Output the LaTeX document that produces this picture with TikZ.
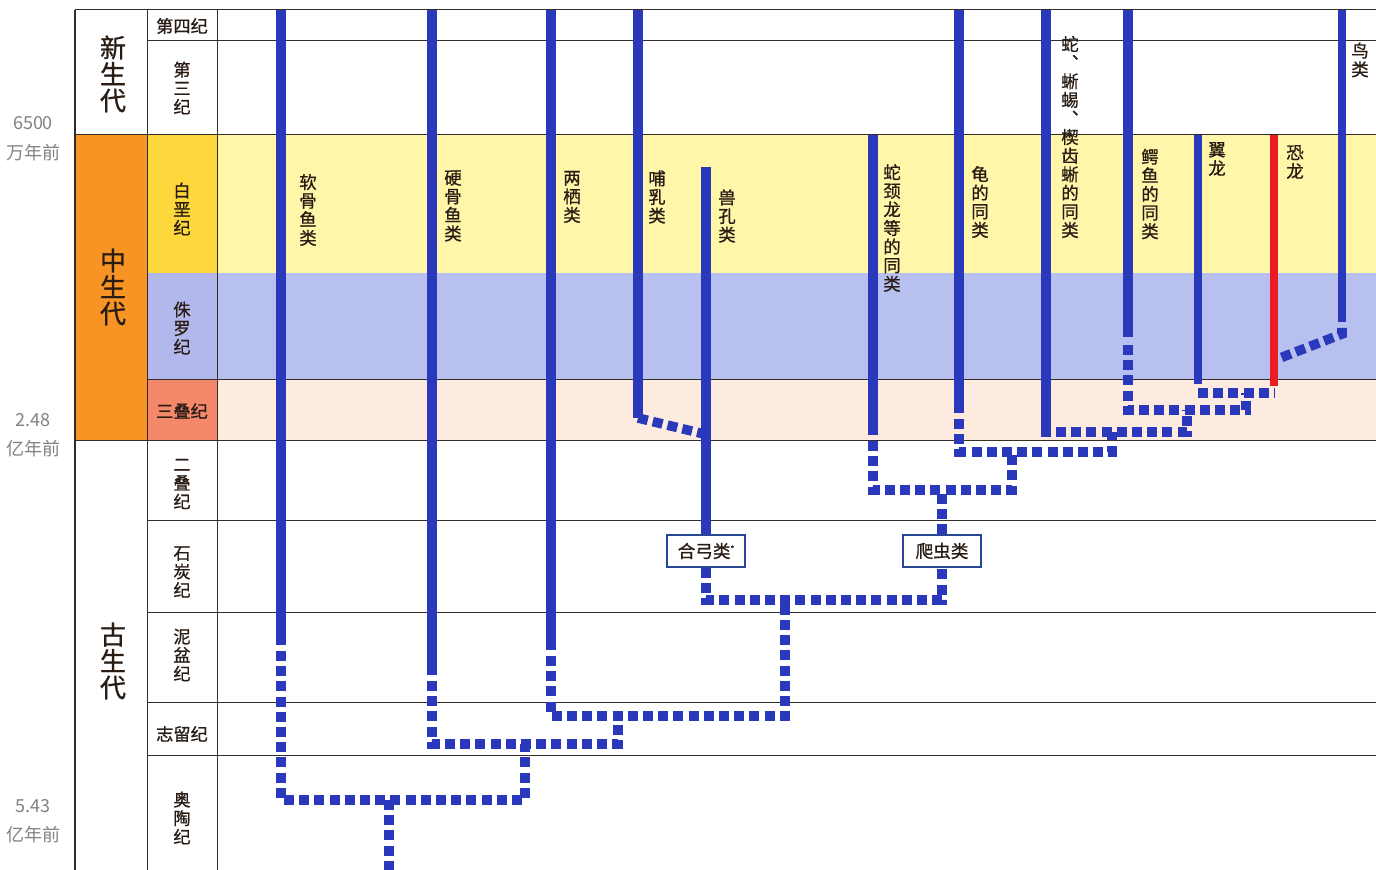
\documentclass[tikz,border=0pt]{standalone}
\usepackage{fontspec}
\newfontfamily\cjk{Noto Sans CJK SC}
\newfontfamily\cjkm[FakeBold=0.9]{Noto Sans CJK SC}
\definecolor{lin}{RGB}{42,56,188}
\definecolor{dino}{RGB}{236,28,36}
\definecolor{meso}{RGB}{247,148,36}
\definecolor{cretcell}{RGB}{253,216,60}
\definecolor{cretband}{RGB}{255,246,170}
\definecolor{jurcell}{RGB}{178,184,236}
\definecolor{jurband}{RGB}{184,192,240}
\definecolor{tricell}{RGB}{243,136,106}
\definecolor{triband}{RGB}{253,235,224}
\definecolor{gridc}{RGB}{50,45,40}
\definecolor{txt}{RGB}{40,28,20}
\definecolor{agegray}{RGB}{130,130,130}
\definecolor{boxline}{RGB}{40,70,150}
\tikzset{
  solidline/.style={line width=4.6pt, color=lin},
  thinsolid/.style={line width=4.2pt, color=lin},
  dotline/.style={line width=4.8pt, color=lin, dash pattern=on 5pt off 2.6pt},
  gridline/.style={line width=0.5pt, color=gridc},
  lname/.style={font=\cjkm\fontsize{8.7}{9.3}\selectfont, text=txt, align=center, inner sep=0pt},
  pname/.style={font=\cjkm\fontsize{8.6}{9.3}\selectfont, text=txt, align=center, inner sep=0pt},
  ename/.style={font=\cjkm\fontsize{13}{13.2}\selectfont, text=txt, align=center, inner sep=0pt},
  agel/.style={font=\cjk\fontsize{9}{10}\selectfont, text=agegray, inner sep=0pt},
  clade/.style={draw=boxline, line width=0.7pt, fill=white, minimum width=39pt, minimum height=16pt, inner sep=0pt, font=\cjkm\fontsize{8.8}{10}\selectfont, text=txt}
}
\begin{document}
\begin{tikzpicture}[x=0.5pt,y=-0.5pt]
\useasboundingbox (0,0) rectangle (1376,870);
\fill[white] (0,0) rectangle (1376,870);
% era / period / bands
\fill[meso] (75,135) rectangle (147,441);
\fill[cretcell] (147,135) rectangle (217,273);
\fill[jurcell] (147,273) rectangle (217,380);
\fill[tricell] (147,380) rectangle (217,441);
\fill[cretband] (217,135) rectangle (1376,273);
\fill[jurband] (217,273) rectangle (1376,380);
\fill[triband] (217,380) rectangle (1376,441);
% grid
\draw[gridline, line width=1pt] (75,10) -- (75,870);
\draw[gridline] (147,10) -- (147,870);
\draw[gridline] (217,10) -- (217,870);
\draw[gridline] (75,10) -- (1376,10);
\draw[gridline] (147,41) -- (1376,41);
\draw[gridline] (75,135) -- (1376,135);
\draw[gridline] (147,380) -- (1376,380);
\draw[gridline] (75,441) -- (1376,441);
\draw[gridline] (147,521) -- (1376,521);
\draw[gridline] (147,613) -- (1376,613);
\draw[gridline] (147,703) -- (1376,703);
\draw[gridline] (147,756) -- (1376,756);
% age labels
\node[agel] (a1n) at (33,123) {6500};
\node[agel] (a1t) at (33,153) {万年前};
\node[agel] (a2n) at (33,420) {2.48};
\node[agel] (a2t) at (33,449) {亿年前};
\node[agel] (a3n) at (33,806) {5.43};
\node[agel] (a3t) at (33,835) {亿年前};
% era labels
\node[ename] (e1) at (113,74) {新\\生\\代};
\node[ename] (e2) at (113,287) {中\\生\\代};
\node[ename] (e3) at (113,661) {古\\生\\代};
% period labels
\node[pname] (p1) at (182,26) {第四纪};
\node[pname] (p2) at (182,88) {第\\三\\纪};
\node[pname] (p3) at (182,209) {白\\垩\\纪};
\node[pname] (p4) at (182,328) {侏\\罗\\纪};
\node[pname] (p5) at (182,411) {三叠纪};
\node[pname] (p6) at (182,484) {二\\叠\\纪};
\node[pname] (p7) at (182,572) {石\\炭\\纪};
\node[pname] (p8) at (182,655) {泥\\盆\\纪};
\node[pname] (p9) at (182,734) {志留纪};
\node[pname] (p10) at (182,818) {奥\\陶\\纪};
% clade boxes
\node[clade] (syn) at (706,551) {合弓类\raisebox{3pt}{\fontsize{4}{4}\selectfont *}};
\node[clade] (rep) at (942,551) {爬虫类};
% coordinates
\coordinate (A0) at (281,10);  \coordinate (A1) at (281,645); \coordinate (A2) at (281,651); \coordinate (A3) at (281,800);
\coordinate (J1) at (525,800); \coordinate (J1u) at (525,744);
\coordinate (R0) at (389,800); \coordinate (R1) at (389,870);
\coordinate (B0) at (432,10);  \coordinate (B1) at (432,675); \coordinate (B2) at (432,681); \coordinate (B3) at (432,744);
\coordinate (J2) at (618,744); \coordinate (J2u) at (618,716);
\coordinate (C0) at (551,10);  \coordinate (C1) at (551,650); \coordinate (C2) at (551,656); \coordinate (C3) at (551,716);
\coordinate (J3) at (785,716); \coordinate (J3u) at (785,600);
\coordinate (D0) at (638,10);  \coordinate (D1) at (638,418); \coordinate (D2) at (704,434);
\coordinate (E0) at (706,167); \coordinate (E3) at (706,600);
\coordinate (J4) at (942,600); \coordinate (J4u) at (942,490);
\coordinate (F0) at (873,135); \coordinate (F1) at (873,435); \coordinate (F2) at (873,441); \coordinate (F3) at (873,490);
\coordinate (J5) at (1012,490); \coordinate (J5u) at (1012,452);
\coordinate (G0) at (959,10);  \coordinate (G1) at (959,413); \coordinate (G2) at (959,419); \coordinate (G3) at (959,452);
\coordinate (J6) at (1112,452); \coordinate (J6u) at (1112,432);
\coordinate (H0) at (1046,10); \coordinate (H1) at (1046,437); \coordinate (H2) at (1056,432);
\coordinate (J7) at (1187,432); \coordinate (J7u) at (1187,410);
\coordinate (K0) at (1128,10); \coordinate (K1) at (1128,337); \coordinate (K2) at (1128,345); \coordinate (K3) at (1128,410);
\coordinate (J8) at (1246,410); \coordinate (J8u) at (1246,393);
\coordinate (L0) at (1198,135); \coordinate (L1) at (1198,384); \coordinate (L2) at (1198,393); \coordinate (L3) at (1275,393);
\coordinate (M0) at (1274,135); \coordinate (M1) at (1274,386);
\coordinate (N0) at (1342,10); \coordinate (N1) at (1342,322); \coordinate (N2) at (1342,328); \coordinate (N3) at (1342,334); \coordinate (N4) at (1280,358);
% lineages
\draw[solidline] (A0) -- (A1);
\draw[dotline] (A2) -- (A3) -- (J1) -- (J1u);
\draw[dotline] (R0) -- (R1);
\draw[solidline] (B0) -- (B1);
\draw[dotline] (B2) -- (B3) -- (J2) -- (J2u);
\draw[solidline] (C0) -- (C1);
\draw[dotline] (C2) -- (C3) -- (J3) -- (J3u);
\draw[solidline] (D0) -- (D1);
\draw[dotline] (D1) -- (D2);
\draw[solidline] (E0) -- (syn.north);
\draw[dotline] (syn.south) -- (E3) -- (J4) -- (rep.south);
\draw[dotline] (rep.north) -- (J4u);
\draw[solidline] (F0) -- (F1);
\draw[dotline] (F2) -- (F3) -- (J5) -- (J5u);
\draw[solidline] (G0) -- (G1);
\draw[dotline] (G2) -- (G3) -- (J6) -- (J6u);
\draw[solidline] (H0) -- (H1);
\draw[dotline] (H2) -- (J7) -- (J7u);
\draw[solidline] (K0) -- (K1);
\draw[dotline] (K2) -- (K3) -- (J8) -- (J8u);
\draw[thinsolid] (L0) -- (L1);
\draw[dotline] (L2) -- (L3);
\draw[line width=4.2pt, color=dino] (M0) -- (M1);
\draw[thinsolid] (N0) -- (N1);
\draw[dotline] (N2) -- (N3) -- (N4);
% lineage names
\node[lname] (n1) at (308,210) {软\\骨\\鱼\\类};
\node[lname] (n2) at (453,206) {硬\\骨\\鱼\\类};
\node[lname] (n3) at (572,197) {两\\栖\\类};
\node[lname] (n4) at (657,197) {哺\\乳\\类};
\node[lname] (n5) at (727,216) {兽\\孔\\类};
\node[lname] (n6) at (892,228) {蛇\\颈\\龙\\等\\的\\同\\类};
\node[lname] (n7) at (980,202) {龟\\的\\同\\类};
\node[lname] (n8) at (1070,137) {蛇\\︑\\蜥\\蜴\\︑\\楔\\齿\\蜥\\的\\同\\类};
\node[lname] (n9) at (1150,194) {鳄\\鱼\\的\\同\\类};
\node[lname] (n10) at (1217,159) {翼\\龙};
\node[lname] (n11) at (1295,162) {恐\\龙};
\node[lname] (n12) at (1360,60) {鸟\\类};
\end{tikzpicture}
\end{document}
